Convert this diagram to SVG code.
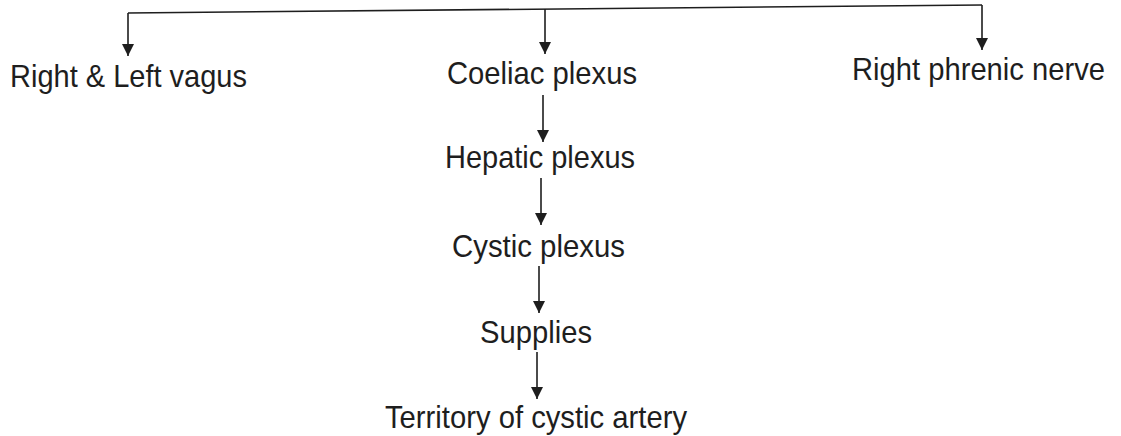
<svg xmlns="http://www.w3.org/2000/svg" width="1121" height="436" viewBox="0 0 1121 436">
<style>
.lbl{font-family:"Liberation Sans",Arial,sans-serif;font-size:31.5px;fill:#1e1e1e}
.ln{fill:none;stroke:#1e1e1e;stroke-width:1.6}
</style>
<defs>
<marker id="ah" markerUnits="userSpaceOnUse" markerWidth="12" markerHeight="14" viewBox="0 0 12 14" refX="12" refY="6" orient="auto">
<path d="M0,0 L12,6 L0,12 Z" fill="#1e1e1e"/>
</marker>
</defs>
<rect width="1121" height="436" fill="#ffffff"/>
<g id="connectors">
<path class="ln" d="M128,13 L982,5"/>
<path class="ln" d="M128,13 L128,56" marker-end="url(#ah)"/>
<path class="ln" d="M545,9 L545,54" marker-end="url(#ah)"/>
<path class="ln" d="M982,5 L982,50" marker-end="url(#ah)"/>
<path class="ln" d="M543,95 L543,142" marker-end="url(#ah)"/>
<path class="ln" d="M541,178 L541,225" marker-end="url(#ah)"/>
<path class="ln" d="M539,266 L539,313" marker-end="url(#ah)"/>
<path class="ln" d="M537,352 L537,399" marker-end="url(#ah)"/>
</g>
<g id="node-vagus"><text class="lbl" x="10" y="87" textLength="237" lengthAdjust="spacingAndGlyphs">Right &amp; Left vagus</text></g>
<g id="node-coeliac"><text class="lbl" x="447" y="84" textLength="190" lengthAdjust="spacingAndGlyphs">Coeliac plexus</text></g>
<g id="node-phrenic"><text class="lbl" x="852" y="80" textLength="253" lengthAdjust="spacingAndGlyphs">Right phrenic nerve</text></g>
<g id="node-hepatic"><text class="lbl" x="445" y="168" textLength="190" lengthAdjust="spacingAndGlyphs">Hepatic plexus</text></g>
<g id="node-cystic"><text class="lbl" x="452" y="257" textLength="173" lengthAdjust="spacingAndGlyphs">Cystic plexus</text></g>
<g id="node-supplies"><text class="lbl" x="480" y="343" textLength="112" lengthAdjust="spacingAndGlyphs">Supplies</text></g>
<g id="node-territory"><text class="lbl" x="385" y="428" textLength="302" lengthAdjust="spacingAndGlyphs">Territory of cystic artery</text></g>
</svg>
